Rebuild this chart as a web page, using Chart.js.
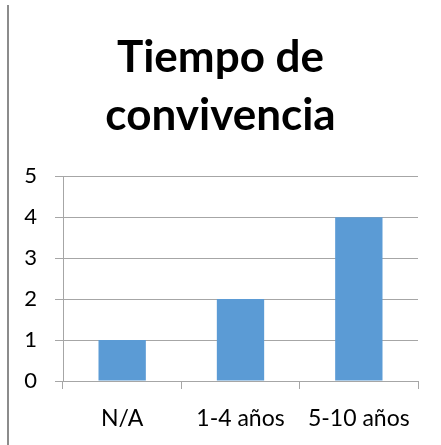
<!DOCTYPE html>
<html>
<head>
<meta charset="utf-8">
<script src="https://cdn.jsdelivr.net/npm/chart.js@4"></script>
<style>
html,body{margin:0;padding:0;background:#fff;}
#wrap{width:441px;height:445px;}
</style>
</head>
<body>
<div id="wrap"><canvas id="c" width="441" height="445"></canvas></div>
<script>
const categories = ['N/A', '1-4 años', '5-10 años'];
const values = [1, 2, 4];
const titleLines = ['Tiempo de', 'convivencia'];
const yMin = 0, yMax = 5, yStep = 1;

const borderPlugin = {
  id: 'leftBorder',
  beforeDraw(chart) {
    const ctx = chart.ctx;
    ctx.save();
    ctx.fillStyle = '#fff';
    ctx.fillRect(0, 0, chart.width, chart.height);
    ctx.strokeStyle = '#8c8c8c';
    ctx.lineWidth = 2;
    ctx.beginPath();
    ctx.moveTo(8, 5);
    ctx.lineTo(8, 445);
    ctx.stroke();
    ctx.restore();
  }
};

new Chart(document.getElementById('c'), {
  type: 'bar',
  data: {
    labels: categories,
    datasets: [{
      data: values,
      backgroundColor: '#5B9BD5',
      borderWidth: 0,
      barPercentage: 0.4,
      categoryPercentage: 1.0
    }]
  },
  options: {
    responsive: false,
    animation: false,
    devicePixelRatio: 1,
    layout: { padding: 0 },
    plugins: {
      legend: { display: false },
      tooltip: { enabled: false },
      title: {
        display: true,
        text: titleLines,
        color: '#000',
        font: { family: 'Lato', size: 44, weight: 'bold', lineHeight: 1.32 },
        padding: { top: 29, bottom: 31 }
      }
    },
    scales: {
      x: {
        grid: { offset: true, drawOnChartArea: false, drawTicks: true, tickLength: 8, color: '#a6a6a6', lineWidth: 1 },
        border: { display: true, color: '#a6a6a6' },
        ticks: { color: '#000', font: { family: 'Lato', size: 23 }, padding: 16, maxRotation: 0 },
        afterFit(scale) { scale.height = 64; }
      },
      y: {
        min: yMin, max: yMax,
        grid: { color: '#a6a6a6', drawTicks: true, tickLength: 8, lineWidth: 1 },
        border: { display: true, color: '#a6a6a6' },
        ticks: { stepSize: yStep, color: '#000', font: { family: 'Lato', size: 22 }, padding: 18 },
        afterFit(scale) { scale.width = 63; }
      },
      yRight: {
        position: 'right',
        min: yMin, max: yMax,
        grid: { display: false, drawTicks: false },
        border: { display: false },
        ticks: { display: false },
        afterFit(scale) { scale.width = 23; }
      }
    }
  },
  plugins: [borderPlugin]
});
</script>
</body>
</html>
